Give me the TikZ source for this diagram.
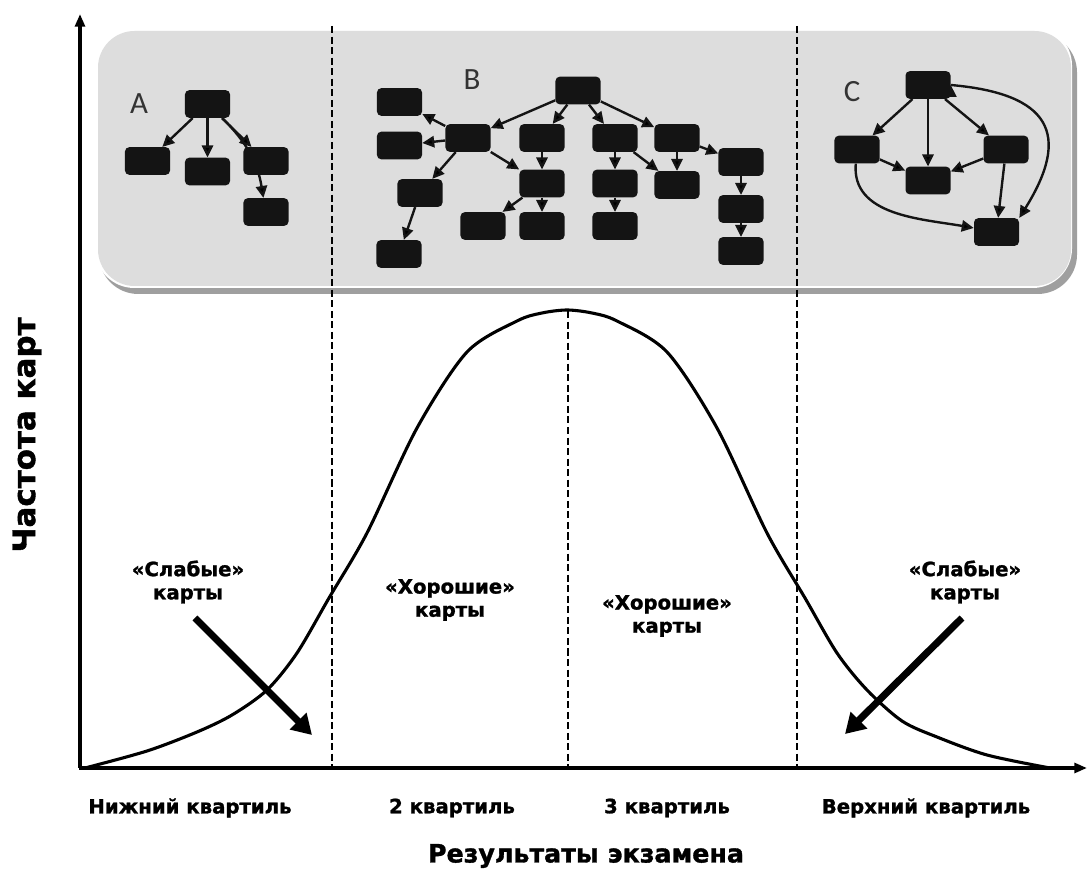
\documentclass[tikz,border=0pt]{standalone}
\usepackage{fontspec}
\setmainfont{DejaVu Sans}[BoldFeatures={FakeBold=1.3}]
\newfontfamily\panelfont{Carlito}
\usetikzlibrary{arrows.meta}
\tikzset{
  box/.style={rectangle,rounded corners=3pt,fill=black!92,minimum width=1.125cm,minimum height=0.69cm,inner sep=0pt},
  link/.style={-{Triangle[length=8.5pt,width=8pt]},line width=1.7pt,draw=black!92},
  axis/.style={line width=2.2pt,-{Triangle[length=9pt,width=7pt]}},
  quart/.style={line width=1.4pt,dash pattern=on 5pt off 2.5pt},
  bigarrow/.style={line width=5pt,-{Triangle[length=14pt,width=16pt]}},
  tag/.style={font=\bfseries\fontsize{14}{16.5}\selectfont,align=center},
  letter/.style={font=\panelfont\fontsize{22}{24}\selectfont,text=black!80},
}
\begin{document}
\begin{tikzpicture}[x=0.025cm,y=-0.025cm]
\useasboundingbox (0,0) rectangle (1088,872);
% panel
\fill[gray!75,rounded corners=28pt] (99,33) rectangle (1077,294);
\fill[white,rounded corners=28pt] (95,26) rectangle (1072,288);
\fill[gray!27,rounded corners=26pt] (98,31) rectangle (1071,286);
% map A
\node[letter] (LA) at (139,104) {A};
\node[box] (A0) at (207.5,104) {};
\node[box] (A1) at (147.5,161) {};
\node[box] (A2) at (207.5,171.5) {};
\node[box] (A3) at (266,161) {};
\node[box] (A4) at (266,212) {};
\path[link]
  (A0) edge (A1)
  (A0) edge (A2)
  (A0) edge (A3)
  (A0) edge[bend left=18] (A4)
;
% map B
\node[letter] (LB) at (472,80) {B};
\node[box] (B0) at (578,90.5) {};
\node[box] (B1) at (399.5,102) {};
\node[box] (B2) at (399.5,145.5) {};
\node[box] (B3) at (468,138) {};
\node[box] (B4) at (542,138) {};
\node[box] (B5) at (615,138) {};
\node[box] (B6) at (677,138) {};
\node[box] (B7) at (741,162) {};
\node[box] (B8) at (420,193) {};
\node[box] (B9) at (399,254) {};
\node[box] (B10) at (542,183.5) {};
\node[box] (B11) at (483,226) {};
\node[box] (B12) at (542,226) {};
\node[box] (B13) at (615,183.5) {};
\node[box] (B14) at (615,226) {};
\node[box] (B15) at (677,185) {};
\node[box] (B16) at (741,209) {};
\node[box] (B17) at (741,251) {};
\path[link]
  (B0) edge (B3)
  (B0) edge (B4)
  (B0) edge (B5)
  (B0) edge (B6)
  (B3) edge (B1)
  (B3) edge (B2)
  (B3) edge (B8)
  (B3) edge (B10)
  (B8) edge (B9)
  (B4) edge (B10)
  (B10) edge (B11)
  (B10) edge (B12)
  (B5) edge (B13)
  (B5) edge (B15)
  (B13) edge (B14)
  (B6) edge (B15)
  (B6) edge (B7)
  (B7) edge (B16)
  (B16) edge (B17)
;
% map C
\node[letter] (LC) at (852,92) {C};
\node[box] (C0) at (928,85) {};
\node[box] (C1) at (857,149.5) {};
\node[box] (C2) at (1006,149.5) {};
\node[box] (C3) at (928,180.5) {};
\node[box] (C4) at (996.5,232) {};
\path[link]
  (C0) edge (C1)
  (C0) edge (C3)
  (C0) edge (C2)
  (C1) edge (C3)
  (C2) edge (C3)
  (C2) edge (C4)
  (C1) edge[out=-95,in=170] (C4)
  (C0.east) edge[out=-5,in=58,looseness=1.7] (C4.north east)
;
% quartile borders
\draw[quart] (332,26) -- (332,768);
\draw[quart] (797,26) -- (797,768);
\draw[quart] (568,311) -- (568,768);
% axes
\coordinate (O) at (80,768);
\coordinate (Y) at (80,14);
\coordinate (X) at (1087,768);
\draw[axis] (O) -- (Y);
\draw[axis] ([xshift=-1pt]O) -- (X);
% bell curve
\draw[line width=2.2pt,line join=round] plot[smooth,tension=0.5] coordinates {
  (85,768) (147,751) (197,732) (232,715) (267,690) (297,653) (329,598)
  (367,533) (417,428) (467,352) (517,321) (542,313) (567,310) (592,313)
  (617,321) (667,352) (717,428) (767,533) (805,598) (837,653) (867,690)
  (902,721) (937,737) (987,755) (1050,768)};
% labels
\node[tag] (WL) at (188,582) {«Слабые»\\карты};
\node[tag] (WR) at (965,582) {«Слабые»\\карты};
\node[tag] (GL) at (450,600) {«Хорошие»\\карты};
\node[tag] (GR) at (667,616) {«Хорошие»\\карты};
\coordinate (WLs) at (195,618);
\coordinate (WLe) at (312,735);
\coordinate (WRs) at (962,618);
\coordinate (WRe) at (845,734);
\draw[bigarrow] (WLs) -- (WLe);
\draw[bigarrow] (WRs) -- (WRe);
\node[rotate=90,font=\bfseries\fontsize{22}{24}\selectfont] (YL) at (27,435) {Частота карт};
\node[tag] (Q1) at (190,808) {Нижний квартиль};
\node[tag] (Q2) at (452,808) {2 квартиль};
\node[tag] (Q3) at (667,808) {3 квартиль};
\node[tag] (Q4) at (926,808) {Верхний квартиль};
\node[font=\bfseries\fontsize{18}{20}\selectfont] (XL) at (586,856) {Результаты экзамена};
\end{tikzpicture}
\end{document}
